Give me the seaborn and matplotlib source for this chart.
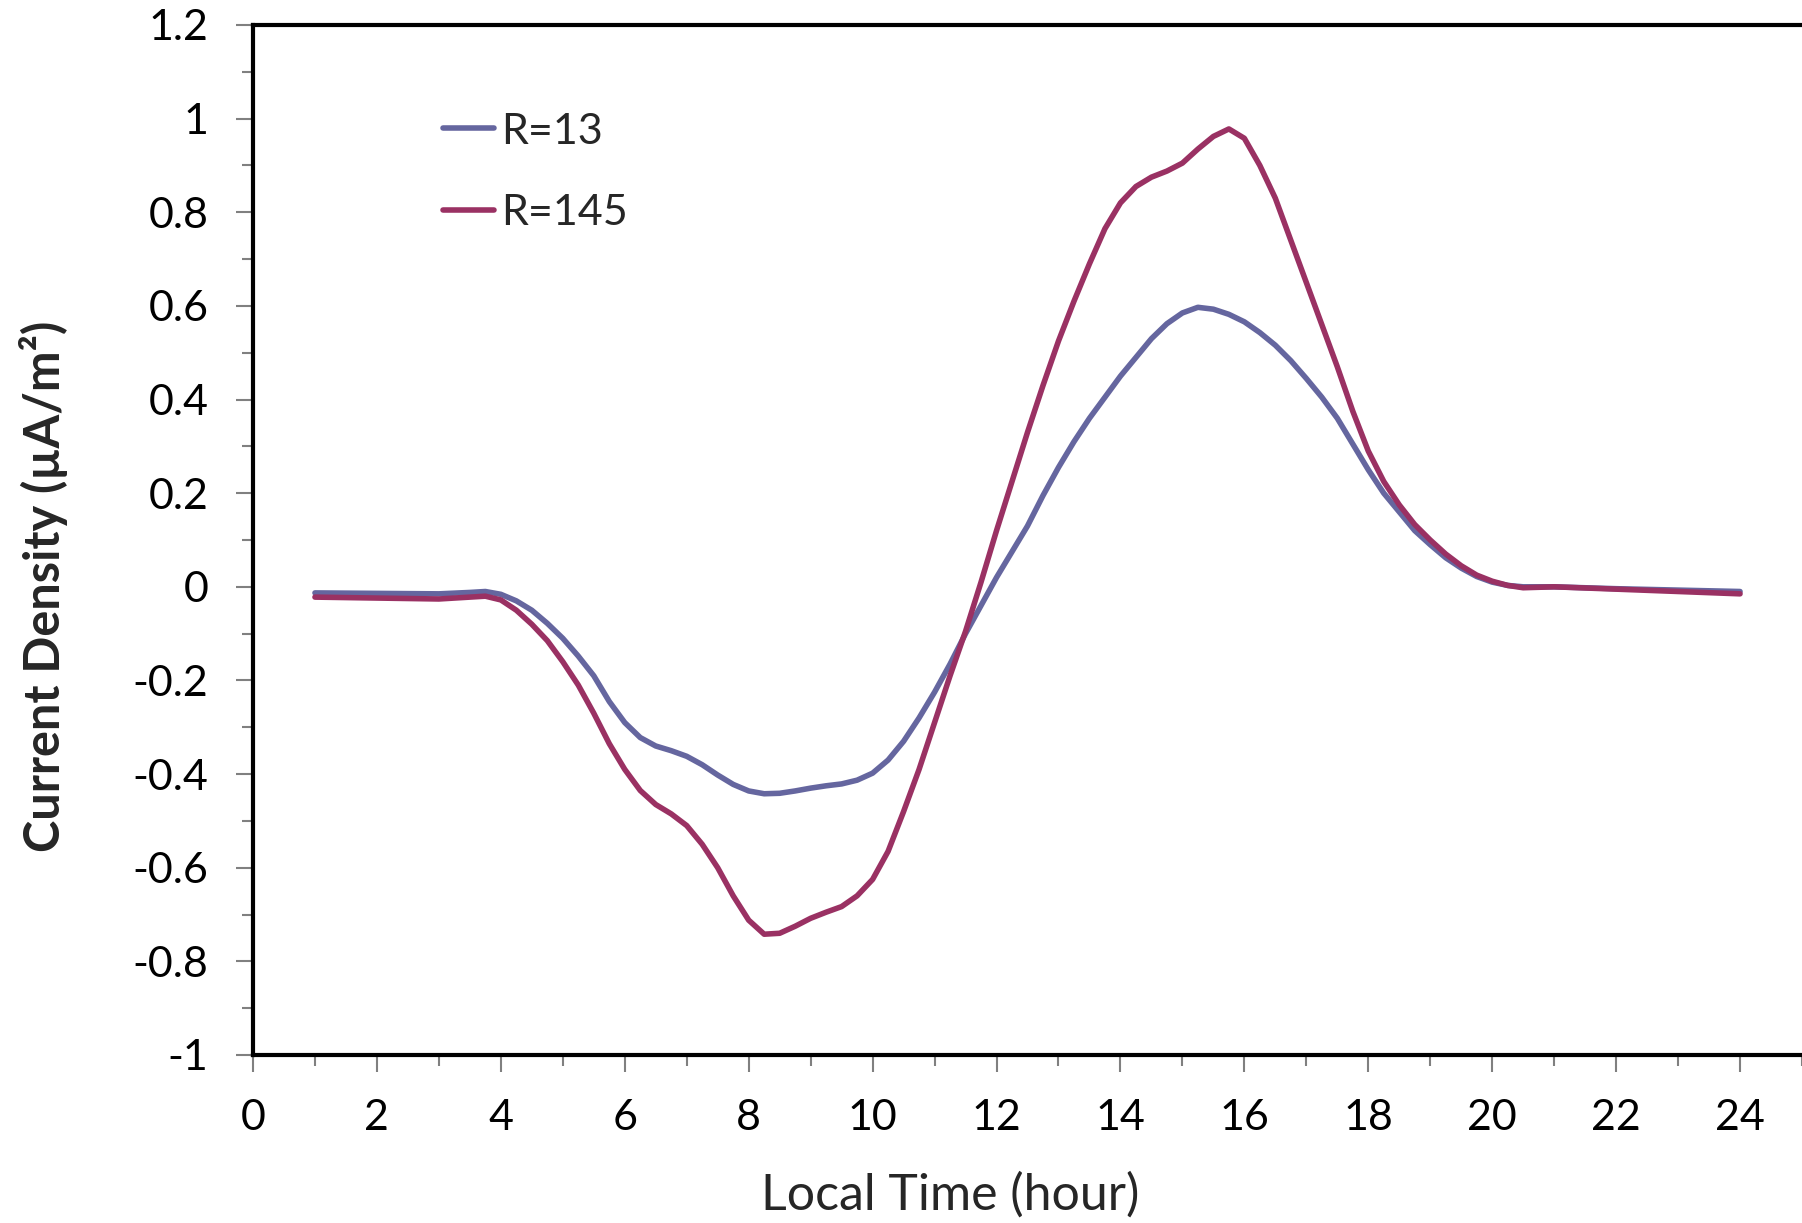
import numpy as np
import pandas as pd
import matplotlib
matplotlib.use("Agg")
import matplotlib.pyplot as plt
import seaborn as sns
from matplotlib.ticker import MultipleLocator

# ---- data ----
hours = [1, 2, 3, 3.5, 3.75, 4, 4.25, 4.5, 4.75, 5, 5.25, 5.5, 5.75, 6, 6.25, 6.5, 6.75,
         7, 7.25, 7.5, 7.75, 8, 8.25, 8.5, 8.75, 9, 9.25, 9.5, 9.75, 10, 10.25, 10.5,
         10.75, 11, 11.25, 11.5, 11.75, 12, 12.25, 12.5, 12.75, 13, 13.25, 13.5, 13.75,
         14, 14.25, 14.5, 14.75, 15, 15.25, 15.5, 15.75, 16, 16.25, 16.5, 16.75, 17,
         17.25, 17.5, 17.75, 18, 18.25, 18.5, 18.75, 19, 19.25, 19.5, 19.75, 20, 20.25,
         20.5, 21, 22, 23, 24]

r13 = [-0.013, -0.014, -0.015, -0.012, -0.010, -0.016, -0.030, -0.050, -0.078, -0.110,
       -0.148, -0.190, -0.245, -0.290, -0.322, -0.340, -0.350, -0.362, -0.380, -0.402,
       -0.422, -0.436, -0.442, -0.441, -0.436, -0.430, -0.425, -0.421, -0.413, -0.398,
       -0.370, -0.330, -0.280, -0.225, -0.165, -0.100, -0.040, 0.020, 0.075, 0.130,
       0.195, 0.255, 0.310, 0.360, 0.405, 0.450, 0.490, 0.530, 0.562, 0.585, 0.597,
       0.593, 0.582, 0.566, 0.543, 0.516, 0.483, 0.445, 0.405, 0.360, 0.305, 0.250,
       0.200, 0.160, 0.120, 0.090, 0.062, 0.040, 0.022, 0.010, 0.003, 0.000, 0.000,
       -0.004, -0.007, -0.010]

r145 = [-0.022, -0.024, -0.026, -0.022, -0.020, -0.028, -0.050, -0.080, -0.115, -0.160,
        -0.210, -0.270, -0.335, -0.390, -0.435, -0.465, -0.485, -0.510, -0.550, -0.600,
        -0.660, -0.712, -0.742, -0.740, -0.725, -0.708, -0.695, -0.683, -0.660, -0.625,
        -0.565, -0.480, -0.390, -0.290, -0.190, -0.095, 0.010, 0.120, 0.225, 0.330,
        0.430, 0.525, 0.610, 0.690, 0.765, 0.820, 0.855, 0.875, 0.888, 0.905, 0.935,
        0.962, 0.978, 0.958, 0.900, 0.830, 0.740, 0.650, 0.560, 0.470, 0.375, 0.290,
        0.225, 0.175, 0.133, 0.100, 0.070, 0.045, 0.025, 0.012, 0.003, -0.002, 0.000,
        -0.005, -0.010, -0.015]

series_names = ["R=13", "R=145"]
colors = ["#65669F", "#9A3163"]

x_ticks = list(range(0, 25, 2))
y_ticks = [-1, -0.8, -0.6, -0.4, -0.2, 0, 0.2, 0.4, 0.6, 0.8, 1, 1.2]
y_tick_labels = ["-1", "-0.8", "-0.6", "-0.4", "-0.2", "0", "0.2", "0.4", "0.6", "0.8", "1", "1.2"]

df = pd.concat([
    pd.DataFrame({"hour": hours, "value": r13, "series": series_names[0]}),
    pd.DataFrame({"hour": hours, "value": r145, "series": series_names[1]}),
], ignore_index=True)

# ---- figure ----
sns.set_theme(style="white")
plt.rcParams["font.family"] = ["Lato", "DejaVu Sans"]

fig = plt.figure(figsize=(18.02, 12.23), dpi=100)
ax = fig.add_axes([253 / 1802, 1 - 1055 / 1223, 1 - 253 / 1802, (1055 - 25) / 1223])

sns.lineplot(data=df, x="hour", y="value", hue="series", palette=colors,
             hue_order=series_names, linewidth=4.0, ax=ax, sort=True,
             estimator=None, errorbar=None)
for ln in ax.get_lines():
    ln.set_solid_joinstyle("round")
    ln.set_solid_capstyle("round")

ax.set_xlim(0, 25)
ax.set_ylim(-1, 1.2)
ax.set_xticks(x_ticks)
ax.set_xticklabels([str(t) for t in x_ticks])
ax.set_yticks(y_ticks)
ax.set_yticklabels(y_tick_labels)
ax.xaxis.set_minor_locator(MultipleLocator(1))
ax.yaxis.set_minor_locator(MultipleLocator(0.1))

ax.tick_params(axis="both", which="major", direction="out", length=12, width=1.5,
               color="#808080", labelsize=31, pad=20, labelcolor="black")
ax.tick_params(axis="both", which="minor", direction="out", length=8, width=1.5,
               color="#808080")
ax.tick_params(axis="x", which="both", bottom=True)
ax.tick_params(axis="y", which="both", left=True)

for side in ["left", "top", "bottom"]:
    ax.spines[side].set_visible(True)
    ax.spines[side].set_color("black")
    ax.spines[side].set_linewidth(3)
ax.spines["right"].set_visible(False)

ax.set_xlabel("Local Time (hour)", fontsize=36)
ax.xaxis.set_label_coords(0.45, -0.136)
ax.xaxis.label.set_va("center")
ax.set_ylabel("Current Density (\u00b5A/m\u00b2)", fontsize=35, fontweight="bold")
ax.yaxis.set_label_coords(-0.135, 0.455)
ax.yaxis.label.set_va("center")

leg = ax.legend(loc="upper left", bbox_to_anchor=(0.1225, 0.915), frameon=False,
                fontsize=31, handlelength=1.2, handletextpad=0.15, labelspacing=1.01,
                borderpad=0, borderaxespad=0)
for line in leg.get_lines():
    line.set_linewidth(4.0)

fig.savefig("out.png", dpi=100, facecolor="white")
